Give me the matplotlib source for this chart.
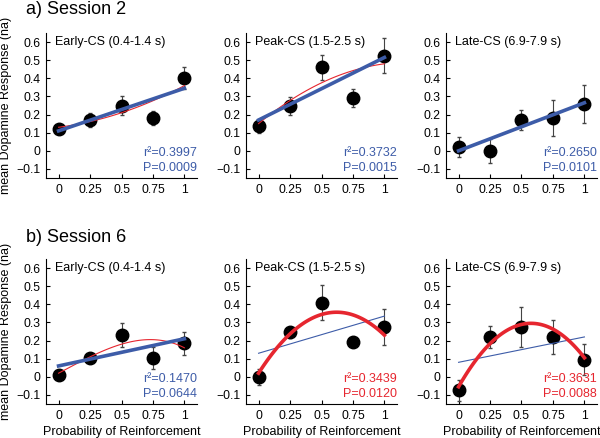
import numpy as np
import matplotlib
matplotlib.use("Agg")
import matplotlib.pyplot as plt

plt.rcParams['font.family'] = ['Liberation Sans', 'DejaVu Sans']

BLUE = "#3d5ca8"
RED = "#e6262f"

prob = [0, 0.25, 0.5, 0.75, 1]

session_titles = ["a) Session 2", "b) Session 6"]
window_titles = ["Early-CS (0.4-1.4 s)", "Peak-CS (1.5-2.5 s)", "Late-CS (6.9-7.9 s)"]

# mean responses per panel (row = session, col = window)
means = [
    [[0.12, 0.17, 0.25, 0.18, 0.40],
     [0.135, 0.245, 0.46, 0.29, 0.525],
     [0.02, 0.0, 0.17, 0.18, 0.26]],
    [[0.01, 0.105, 0.23, 0.105, 0.185],
     [0.0, 0.245, 0.41, 0.19, 0.275],
     [-0.075, 0.22, 0.275, 0.22, 0.095]],
]
sems = [
    [[0.02, 0.04, 0.05, 0.04, 0.06],
     [0.035, 0.05, 0.07, 0.05, 0.095],
     [0.055, 0.065, 0.055, 0.1, 0.105]],
    [[0.025, 0.01, 0.067, 0.06, 0.065],
     [0.045, 0.03, 0.095, 0.025, 0.1],
     [0.06, 0.06, 0.11, 0.095, 0.085]],
]

# linear fit (intercept, slope) and polynomial fit coefficients (lowest order first)
lin_fits = [
    [(0.11, 0.235), (0.17, 0.345), (0.0, 0.265)],
    [(0.06, 0.15), (0.13, 0.205), (0.08, 0.14)],
]
poly_fits = [
    [(0.13, 0.09, 0.14), (0.15, 0.57, -0.24), None],
    [(0.02, 0.3667, 0.04, -0.2667), (0.02, 1.085, -0.875), (-0.055, 1.2158, -1.0558)],
]
# which fit is the significant one (drawn thick, stats coloured)
best_fit = [["lin", "lin", "lin"], ["lin", "poly", "poly"]]
r2 = [["0.3997", "0.3732", "0.2650"], ["0.1470", "0.3439", "0.3631"]]
pvals = [["0.0009", "0.0015", "0.0101"], ["0.0644", "0.0120", "0.0088"]]

fig = plt.figure(figsize=(6, 4.38), dpi=100)

col_left = [46, 246, 446]
row_top = [33, 259]
title_y = [10, 237]
ax_w, ax_h = 151, 145
W, H = 600, 438

xs = np.linspace(0, 1, 100)

for r in range(2):
    for c in range(3):
        ax = fig.add_axes([col_left[c] / W, (H - row_top[r] - ax_h) / H, ax_w / W, ax_h / H])
        ax.spines['top'].set_visible(False)
        ax.spines['right'].set_visible(False)
        ax.set_xlim(-0.1, 1.1)
        ax.set_ylim(-0.15, 0.65)
        ax.set_xticks(prob)
        ax.set_xticklabels(["0", "0.25", "0.5", "0.75", "1"])
        ax.set_yticks(np.arange(-0.1, 0.61, 0.1))
        ax.set_yticklabels(["\u22120.1", "0", "0.1", "0.2", "0.3", "0.4", "0.5", "0.6"])
        ax.tick_params(direction='in', length=3, labelsize=8.8, pad=4)

        ax.errorbar(prob, means[r][c], yerr=sems[r][c], fmt='o', color='black',
                    ecolor='#444444', elinewidth=0.8, capsize=1.5, markersize=9, zorder=2)

        b0, b1 = lin_fits[r][c]
        thick_lin = best_fit[r][c] == "lin"
        if poly_fits[r][c] is not None:
            ys = np.polynomial.polynomial.polyval(xs, poly_fits[r][c])
            ax.plot(xs, ys, color=RED, lw=0.8 if thick_lin else 2.6, zorder=3)
        ax.plot(xs, b0 + b1 * xs, color=BLUE, lw=2.6 if thick_lin else 0.8,
                zorder=4 if thick_lin else 2.5)

        ax.text(-0.03, 0.6, window_titles[c], fontsize=9, va='center', ha='left')
        stat_color = BLUE if thick_lin else RED
        ax.text(1.1, -0.01, "r\u00b2=" + r2[r][c], color=stat_color, fontsize=9,
                ha='right', va='center')
        ax.text(1.1, -0.095, "P=" + pvals[r][c], color=stat_color, fontsize=9,
                ha='right', va='center')

        if c == 0:
            ax.set_ylabel("mean Dopamine Response (na)", fontsize=9, labelpad=3)
        if r == 1:
            ax.set_xlabel("Probability of Reinforcement", fontsize=9, labelpad=3)

    fig.text(26 / W, 1 - title_y[r] / H, session_titles[r], fontsize=13,
             ha='left', va='center')

fig.savefig("out.png", dpi=100)
